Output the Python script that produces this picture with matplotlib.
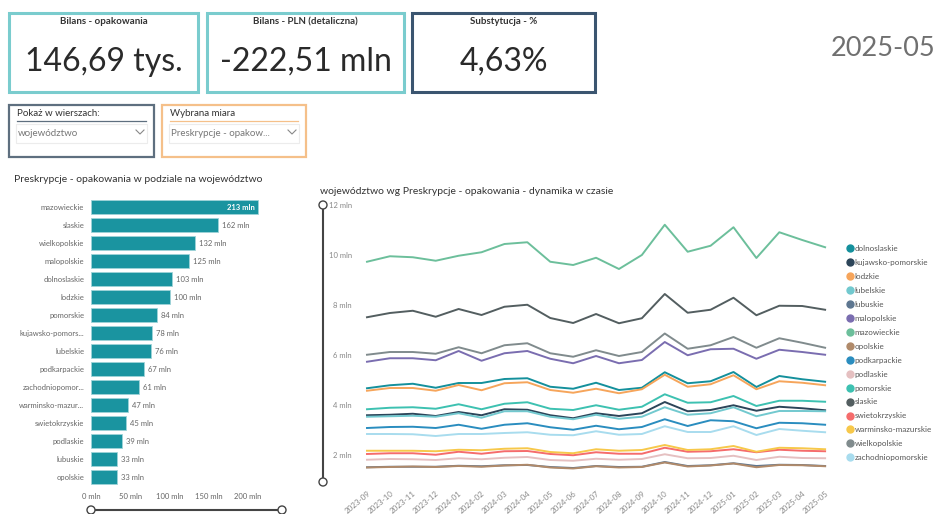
import matplotlib
matplotlib.use('Agg')
import matplotlib.pyplot as plt
from matplotlib.patches import Rectangle, Circle
from matplotlib.lines import Line2D
import numpy as np

plt.rcParams['font.family'] = ['Lato', 'DejaVu Sans']

W, H = 938, 514

# KPI cards
kpi_titles = ['Bilans - opakowania', 'Bilans - PLN (detaliczna)', 'Substytucja - %']
kpi_values = ['146,69 tys.', '-222,51 mln', '4,63%']
period = '2025-05'

# bar chart: total per voivodeship (mln)
bar_names = ['mazowieckie', 'slaskie', 'wielkopolskie', 'malopolskie', 'dolnoslaskie',
             'lodzkie', 'pomorskie', 'kujawsko-pomors...', 'lubelskie', 'podkarpackie',
             'zachodniopomor...', 'warminsko-mazur...', 'swietokrzyskie', 'podlaskie',
             'lubuskie', 'opolskie']
bar_vals = [213, 162, 132, 125, 103, 100, 84, 78, 76, 67, 61, 47, 45, 39, 33, 33]
bar_ticks = [0, 50, 100, 150, 200]

# line chart: monthly values (mln)
months = ['2023-09', '2023-10', '2023-11', '2023-12', '2024-01', '2024-02', '2024-03',
          '2024-04', '2024-05', '2024-06', '2024-07', '2024-08', '2024-09', '2024-10',
          '2024-11', '2024-12', '2025-01', '2025-02', '2025-03', '2025-04', '2025-05']

dolnoslaskie = [4.67, 4.79, 4.85, 4.69, 4.88, 4.88, 5.04, 5.07, 4.73, 4.65, 4.89,
                4.60, 4.69, 5.31, 4.87, 4.95, 5.32, 4.72, 5.16, 5.03, 4.93]
kujawsko_pomorskie = [3.59, 3.61, 3.65, 3.56, 3.72, 3.59, 3.83, 3.81, 3.59, 3.47, 3.67,
                      3.56, 3.67, 4.12, 3.75, 3.80, 3.99, 3.77, 3.93, 3.87, 3.79]
lodzkie = [4.57, 4.68, 4.68, 4.57, 4.80, 4.59, 4.87, 4.91, 4.60, 4.49, 4.65,
           4.47, 4.63, 5.21, 4.73, 4.83, 5.19, 4.63, 4.95, 4.89, 4.79]
lubelskie = [3.53, 3.55, 3.57, 3.53, 3.67, 3.49, 3.75, 3.75, 3.53, 3.43, 3.61,
             3.45, 3.53, 3.91, 3.61, 3.67, 3.91, 3.55, 3.76, 3.76, 3.75]
lubuskie = [1.51, 1.53, 1.53, 1.53, 1.57, 1.55, 1.59, 1.60, 1.52, 1.48, 1.56,
            1.52, 1.53, 1.72, 1.56, 1.59, 1.67, 1.56, 1.61, 1.60, 1.56]
malopolskie = [5.73, 5.87, 5.87, 5.79, 6.16, 5.77, 6.07, 6.16, 5.85, 5.67, 5.96,
               5.67, 5.80, 6.52, 5.99, 6.23, 6.25, 5.85, 6.21, 6.12, 6.01]
mazowieckie = [9.73, 9.95, 9.91, 9.77, 9.97, 10.11, 10.44, 10.51, 9.73, 9.60, 9.89,
               9.44, 10.00, 11.21, 10.13, 10.37, 11.11, 9.88, 10.91, 10.60, 10.31]
opolskie = [1.50, 1.52, 1.54, 1.52, 1.56, 1.53, 1.58, 1.61, 1.50, 1.46, 1.55,
            1.50, 1.52, 1.70, 1.54, 1.58, 1.66, 1.51, 1.60, 1.59, 1.55]
podkarpackie = [3.08, 3.12, 3.13, 3.08, 3.21, 3.05, 3.21, 3.27, 3.11, 3.01, 3.17,
                3.03, 3.12, 3.43, 3.16, 3.39, 3.35, 3.07, 3.29, 3.27, 3.21]
podlaskie = [1.81, 1.84, 1.83, 1.80, 1.87, 1.83, 1.89, 1.92, 1.80, 1.77, 1.85,
             1.81, 1.84, 2.03, 1.87, 1.88, 1.97, 1.80, 1.93, 1.88, 1.87]
pomorskie = [3.83, 3.89, 3.91, 3.85, 4.03, 3.83, 4.05, 4.11, 3.85, 3.80, 3.99,
             3.81, 3.93, 4.43, 4.09, 4.11, 4.36, 3.96, 4.17, 4.17, 4.13]
slaskie = [7.51, 7.68, 7.77, 7.53, 7.84, 7.60, 7.93, 8.01, 7.48, 7.28, 7.64,
           7.27, 7.47, 8.44, 7.69, 7.81, 8.29, 7.59, 7.97, 7.96, 7.81]
swietokrzyskie = [2.04, 2.07, 2.07, 2.01, 2.13, 2.05, 2.15, 2.16, 2.04, 1.99, 2.11,
                  2.05, 2.05, 2.29, 2.13, 2.15, 2.23, 2.11, 2.21, 2.17, 2.15]
warminsko_mazurskie = [2.17, 2.17, 2.17, 2.15, 2.21, 2.19, 2.25, 2.27, 2.12, 2.07, 2.23,
                       2.17, 2.20, 2.40, 2.20, 2.23, 2.36, 2.13, 2.29, 2.27, 2.23]
wielkopolskie = [6.01, 6.12, 6.12, 6.05, 6.31, 6.07, 6.39, 6.47, 6.07, 5.93, 6.19,
                 5.96, 6.12, 6.86, 6.25, 6.39, 6.72, 6.29, 6.67, 6.49, 6.29]
zachodniopomorskie = [2.84, 2.84, 2.83, 2.76, 2.84, 2.84, 2.88, 2.91, 2.81, 2.79, 2.95,
                      2.81, 2.84, 3.15, 2.92, 2.92, 3.15, 2.80, 3.04, 2.97, 2.91]

series = [
    ('dolnoslaskie', dolnoslaskie, '#14909c'),
    ('kujawsko-pomorskie', kujawsko_pomorskie, '#2c4559'),
    ('lodzkie', lodzkie, '#f6a55b'),
    ('lubelskie', lubelskie, '#72c9cf'),
    ('lubuskie', lubuskie, '#5d7690'),
    ('malopolskie', malopolskie, '#7a6db0'),
    ('mazowieckie', mazowieckie, '#6cbf9b'),
    ('opolskie', opolskie, '#b08a6a'),
    ('podkarpackie', podkarpackie, '#2a8dbf'),
    ('podlaskie', podlaskie, '#e5c0c1'),
    ('pomorskie', pomorskie, '#3dc1b1'),
    ('slaskie', slaskie, '#535e60'),
    ('swietokrzyskie', swietokrzyskie, '#f56c6c'),
    ('warminsko-mazurskie', warminsko_mazurskie, '#f7c84a'),
    ('wielkopolskie', wielkopolskie, '#808b8d'),
    ('zachodniopomorskie', zachodniopomorskie, '#a8dcee'),
]


def px(x0, y0, x1, y1):
    return [x0 / W, 1 - y1 / H, (x1 - x0) / W, (y1 - y0) / H]


fig = plt.figure(figsize=(W / 100, H / 100), dpi=100)
fig.patch.set_facecolor('white')

# canvas in pixel coordinates for cards / slicers / sliders
cv = fig.add_axes([0, 0, 1, 1], zorder=0)
cv.set_xlim(0, W)
cv.set_ylim(H, 0)
cv.axis('off')

# KPI cards
cards = [(9, 13, 198, 92, '#7accce'), (207, 13, 404, 92, '#7accce'), (412, 13, 595, 92, '#3b5570')]
for (x0, y0, x1, y1, ec), t, v in zip(cards, kpi_titles, kpi_values):
    cv.add_patch(Rectangle((x0, y0), x1 - x0, y1 - y0, fill=False, ec=ec, lw=2.2))
    cx = (x0 + x1) / 2
    cv.text(cx, 22, t, ha='center', va='center', fontsize=7, fontweight='bold', color='#333333')
    cv.text(cx, 62, v, ha='center', va='center', fontsize=23, fontweight='normal', color='#2a2a2a')

cv.text(935, 49, period, ha='right', va='center', fontsize=19.5, fontweight='normal', color='#707070')

# slicers
slicers = [(9, 105, 154, 157, '#5e6f7f', 'Pokaż w wierszach:', 'województwo'),
           (162, 105, 306, 157, '#f5c08a', 'Wybrana miara', 'Preskrypcje - opakow...')]
for x0, y0, x1, y1, ec, lab, val in slicers:
    cv.add_patch(Rectangle((x0, y0), x1 - x0, y1 - y0, fill=False, ec=ec, lw=1.6))
    cv.text(x0 + 8, 114, lab, ha='left', va='center', fontsize=7, color='#333333')
    cv.plot([x0 + 8, x1 - 8], [121, 121], color=ec, lw=0.9)
    cv.add_patch(Rectangle((x0 + 7, 124), x1 - x0 - 14, 19, fill=False, ec='#ececec', lw=0.8))
    cv.text(x0 + 9, 133, val, ha='left', va='center', fontsize=7, color='#777777')
    cv.plot([x1 - 18, x1 - 14, x1 - 10], [130, 134, 130], color='#888888', lw=0.8)

# bar chart
cv.text(14, 180, 'Preskrypcje - opakowania w podziale na województwo', ha='left',
        va='center', fontsize=7.5, color='#333333')
axb = fig.add_axes(px(91, 198, 300, 486), zorder=1)
axb.patch.set_alpha(0)
ypos = np.arange(len(bar_vals))
axb.barh(ypos, bar_vals, height=0.78, color='#1a94a0', edgecolor='#9fd3d8', linewidth=0.6)
axb.set_xlim(0, 266)
axb.set_ylim(15.5, -0.5)
axb.set_yticks(ypos)
axb.set_yticklabels(bar_names, fontsize=5.5, color='#666666')
axb.set_xticks(bar_ticks)
axb.set_xticklabels([f'{t} mln' for t in bar_ticks], fontsize=5.5, color='#666666')
axb.tick_params(length=0, pad=5)
for s in axb.spines.values():
    s.set_visible(False)
for i, v in enumerate(bar_vals):
    if i == 0:
        axb.text(v - 4, i, f'{v} mln', ha='right', va='center', fontsize=5.5,
                 color='white', fontweight='bold')
    else:
        axb.text(v + 5, i, f'{v} mln', ha='left', va='center', fontsize=5.5, color='#666666')

# bar range slider
cv.plot([91, 282], [510, 510], color='#444444', lw=1.5)
for xc in (91, 282):
    cv.add_patch(Circle((xc, 510), 4, fc='white', ec='#444444', lw=1.0, zorder=3))

# line chart
cv.text(320, 191, 'województwo wg Preskrypcje - opakowania - dynamika w czasie', ha='left',
        va='center', fontsize=7.5, color='#333333')
axl = fig.add_axes(px(356, 200, 840, 485), zorder=1)
axl.patch.set_alpha(0)
x = np.arange(len(months))
handles = []
for name, vals, col in series:
    axl.plot(x, vals, color=col, lw=1.4)
    handles.append(Line2D([], [], marker='o', linestyle='', markersize=5, color=col))
axl.set_xlim(-0.48, 20.65)
axl.set_ylim(0.8, 12.2)
axl.set_yticks([2, 4, 6, 8, 10, 12])
axl.set_yticklabels([f'{t} mln' for t in [2, 4, 6, 8, 10, 12]], fontsize=5.5, color='#888888')
axl.set_xticks(x)
axl.set_xticklabels(months, fontsize=5.8, color='#888888', rotation=40, ha='right',
                    rotation_mode='anchor')
axl.tick_params(length=0, pad=3)
for s in axl.spines.values():
    s.set_visible(False)

# vertical range slider
cv.plot([323, 323], [205, 482], color='#444444', lw=1.5)
for yc in (205, 482):
    cv.add_patch(Circle((323, yc), 4, fc='white', ec='#444444', lw=1.0, zorder=3))

fig.legend(handles, [s[0] for s in series], loc='upper left',
           bbox_to_anchor=(844 / W, 1 - 242 / H), frameon=False, fontsize=5.8,
           handlelength=0.6, handletextpad=0.3, labelspacing=0.86, borderaxespad=0,
           labelcolor='#555555')

fig.savefig('out.png', dpi=100, facecolor='white')
